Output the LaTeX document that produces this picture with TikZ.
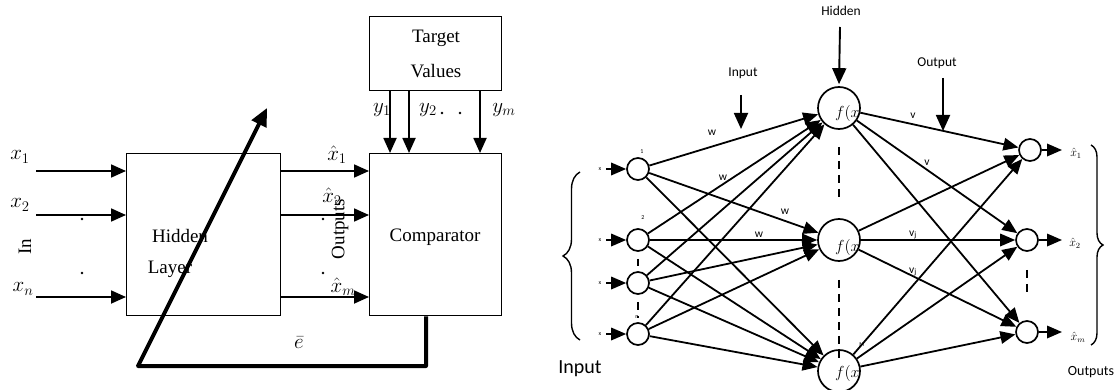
\RequirePackage{fix-cm}
\documentclass[tikz,border=0pt]{standalone}
\usepackage{fontspec}
\setmainfont{Liberation Serif}
\newfontfamily\sansf{Carlito}
\usetikzlibrary{arrows.meta,decorations.pathreplacing}
\begin{document}
\begin{tikzpicture}[x=1pt,y=-1pt,
 box/.style={draw,line width=1.3pt,inner sep=0pt,anchor=north west},
 lbl/.style={font=\fontsize{19}{22}\selectfont,inner sep=0pt},
 mlbl/.style={font=\fontsize{21}{24}\selectfont,inner sep=0pt},
 arr/.style={line width=1.8pt,-{Triangle[length=15pt,width=13pt]}},
 fat/.style={line width=4pt,line join=round,-{Triangle[length=18pt,width=16pt]}},
 inn/.style={circle,draw,line width=1.7pt,minimum size=22pt,inner sep=0pt},
 hidn/.style={circle,draw,line width=1.7pt,minimum size=42pt,inner sep=0pt},
 link/.style={line width=1.8pt,-{Triangle[length=15pt,width=12.5pt]}},
 toparr/.style={line width=1.9pt,-{Triangle[length=16pt,width=14pt]}},
 sml/.style={font=\sansf\fontsize{13.5}{15}\selectfont,inner sep=0pt},
 wl/.style={font=\sansf\fontsize{11.5}{12}\selectfont,inner sep=0pt},
 tinyt/.style={font=\sansf\fontsize{6}{7}\selectfont,inner sep=0pt},
 fx/.style={font=\fontsize{16}{17}\selectfont,inner sep=0pt,anchor=west},
 dsh/.style={line width=1.7pt,dash pattern=on 8pt off 6pt}
]
\useasboundingbox (0,0) rectangle (1115,390);

% ---------------- left diagram ----------------
\node[box,minimum width=132pt,minimum height=74pt] (tgt) at (369,16) {};
\node[box,minimum width=154pt,minimum height=162pt] (hl) at (126,153) {};
\node[box,minimum width=132pt,minimum height=162pt] (cmp) at (369,153) {};

\node[lbl] (tT) at (436,38) {Target};
\node[lbl] (tV) at (436,71) {Values};
\node[lbl] (tC) at (435,237) {Comparator};
\node[lbl] (tH) at (180,236) {Hidden};
\node[lbl] (tL) at (170,269) {Layer};
\node[lbl,rotate=90] (tIn) at (25,247) {In};
\node[lbl,rotate=90] (tOut) at (340,229) {Outputs};

\node[mlbl] (lx1) at (20,157) {$x_1$};
\node[mlbl] (lx2) at (20,205) {$x_2$};
\node[mlbl] (lxn) at (23,289) {$x_n$};
\node[mlbl] (lh1) at (337,155) {$\hat{x}_1$};
\node[mlbl] (lh2) at (332,197) {$\hat{x}_2$};
\node[mlbl] (lhm) at (343,287) {$\hat{x}_m$};
\node[mlbl] (ly1) at (382,110) {$y_1$};
\node[mlbl] (ly2) at (428,110) {$y_2$};
\node[mlbl] (lym) at (504,110) {$y_m$};
\node[mlbl] (le) at (299,343) {$\bar{e}$};

\fill (82,219) circle (1.3pt);
\fill (82,273) circle (1.3pt);
\fill (323,219) circle (1.3pt);
\fill (323,273) circle (1.3pt);
\fill (442,113) circle (1.3pt);
\fill (460,113) circle (1.3pt);

\foreach \n/\y in {1/171,2/215,3/297} {
  \coordinate (in\n) at (36,\y);
  \draw[arr] (in\n) -- (in\n -| hl.west);
  \draw[arr] (hl.east |- in\n) -- (cmp.west |- in\n);
}
\foreach \n/\x in {1/390,2/409,3/480} {
  \coordinate (ty\n) at (\x,0);
  \draw[arr] (tgt.south -| ty\n) -- (cmp.north -| ty\n);
}
\coordinate (fb) at (426,366);
\coordinate (fl) at (138,366);
\coordinate (tip) at (267,108);
\draw[fat] (cmp.south -| fb) -- (fb) -- (fl) -- (tip);

% ---------------- right diagram ----------------
\node[inn] (I1) at (638,169) {};
\node[inn] (I2) at (638,240) {};
\node[inn] (I3) at (638,283) {};
\node[inn] (I4) at (638,334) {};
\node[hidn] (H1) at (839,108) {};
\node[hidn] (H2) at (839,240) {};
\node[hidn] (H3) at (839,371) {};
\node[inn] (O1) at (1030,150) {};
\node[inn] (O2) at (1027,240) {};
\node[inn] (O3) at (1027,332) {};

\node[fx] at (835,114) {$f(x$};
\node[fx] at (835,247) {$f(x$};
\node[fx] at (835,373) {$f(x$};

\foreach \i in {1,...,4} \foreach \h in {1,2,3} \draw[link] (I\i) -- (H\h);
\foreach \h in {1,2,3} \foreach \o in {1,2,3} \draw[link] (H\h) -- (O\o);

\foreach \i/\y in {1/169,2/240,3/283,4/334} {
  \coordinate (ia\i) at (606,\y);
  \draw[link] (ia\i) -- (I\i);
  \node[tinyt] at (600,\y) {x};
}
\foreach \o/\y in {1/150,2/240,3/332} {
  \coordinate (ob\o) at (1062,\y);
  \draw[link] (O\o) -- (ob\o);
}
\node[font=\fontsize{12}{13}\selectfont,inner sep=0pt] at (1076,153) {$\hat{x}_1$};
\node[font=\fontsize{12}{13}\selectfont,inner sep=0pt] at (1075,243) {$\hat{x}_2$};
\node[font=\fontsize{12}{13}\selectfont,inner sep=0pt] at (1078,337) {$\hat{x}_m$};

\node[tinyt] at (642,152) {1};
\node[tinyt] at (643,218) {2};
\node[tinyt] at (637,317) {n};
\node[tinyt] at (862,345) {M};

\draw[line width=1.4pt,decorate,decoration={brace,amplitude=17pt}] (580,340) -- (580,172);
\draw[line width=1.4pt,decorate,decoration={brace,amplitude=12pt}] (1091,145) -- (1091,345);

\node[sml] (lhid) at (841,11) {Hidden};
\coordinate (ha) at (840,27);
\draw[toparr] (ha) -- ([yshift=2pt]H1.north);
\node[sml] (linp) at (743,73) {Input};
\coordinate (ia) at (741,95);
\coordinate (ib) at (741,129);
\draw[toparr] (ia) -- (ib);
\node[sml] (lout) at (937,63) {Output};
\coordinate (oa) at (943,78);
\coordinate (obb) at (943,131);
\draw[toparr] (oa) -- (obb);

\node[wl] at (712,133) {w};
\node[wl] at (723,178) {w};
\node[wl] at (785,212) {w};
\node[wl] at (759,235) {w};
\node[wl] at (913,116) {v};
\node[wl] at (927,163) {v};
\node[wl] at (913,235) {v\textsubscript{j}};
\node[wl] at (913,272) {v\textsubscript{j}};

\draw[dsh] ([yshift=-17pt]H1.south) -- ([yshift=20pt]H2.north);
\draw[dsh] ([yshift=-18pt]H2.south) -- ([yshift=-10pt]H2.south |- H3.north);
\draw[dsh] ([yshift=-7pt]I2.south) -- ([yshift=5pt]I3.north);
\draw[dsh] ([yshift=-7pt]I3.south) -- ([yshift=4pt]I4.north);
\draw[dsh] ([yshift=-18pt]O2.south) -- ([yshift=26pt]O3.north);

\node[font=\sansf\fontsize{20}{22}\selectfont,inner sep=0pt] at (580,369) {Input};
\node[font=\sansf\fontsize{14}{16}\selectfont,inner sep=0pt] at (1091,372) {Outputs};
\end{tikzpicture}
\end{document}
